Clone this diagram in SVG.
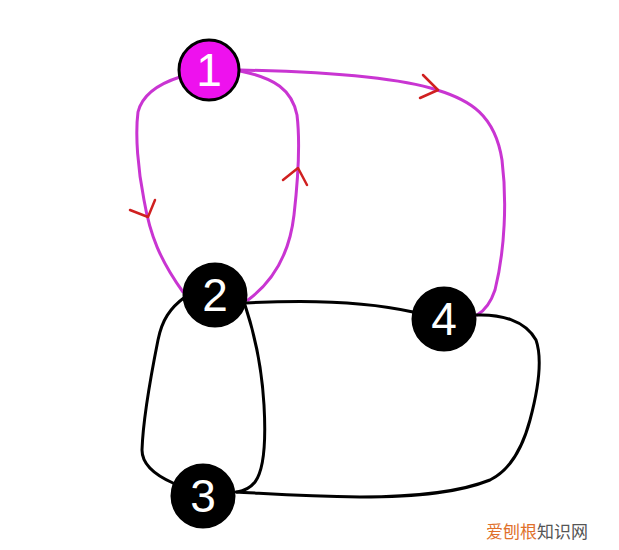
<svg xmlns="http://www.w3.org/2000/svg" width="619" height="550" viewBox="0 0 619 550">
<style>
.m{fill:none;stroke:#c935d2;stroke-width:3;stroke-linecap:round;stroke-linejoin:round}
.k{fill:none;stroke:#000;stroke-width:3;stroke-linecap:round;stroke-linejoin:round}
.a{fill:none;stroke:#d02020;stroke-width:2.5;stroke-linecap:round;stroke-linejoin:round}
.n{stroke:#000;stroke-width:3}
.t{font-family:"Liberation Sans",Arial,sans-serif;font-size:46px;fill:#fff;text-anchor:middle}
.w{font-family:"Noto Sans CJK SC",sans-serif;font-size:17px}
</style>
<rect width="619" height="550" fill="#fff"/>
<g id="connectors">
<path class="m" d="M180,77 C158,84 142,96 138,112 C135,135 138,170 144,200 C150,235 160,260 183,292"/>
<path class="m" d="M240,71 C275,78 292,90 297,115 C300,140 298,180 294,215 C290,250 275,280 248,300"/>
<path class="m" d="M240,70 C330,72 400,78 437,90 C470,100 495,115 502,160 C507,200 505,250 495,290 C490,305 484,311 477,315"/>
<path class="a" d="M130,210 L148,217 L155,200"/>
<path class="a" d="M283,180 L298,168 L307,185"/>
<path class="a" d="M423,75 L438,90 L420,98"/>
<path class="k" d="M185,297 C170,308 162,320 158,340 C150,380 143,420 142,450 C142,465 155,475 173,483"/>
<path class="k" d="M245,305 C255,335 262,370 264,405 C266,440 264,470 255,482 C250,488 244,491 237,492"/>
<path class="k" d="M246,303 C300,300 360,300 413,312"/>
<path class="k" d="M476,315 C500,314 525,320 536,340 C543,360 538,390 530,420 C522,450 510,470 490,480 C460,492 420,497 360,497 C300,496 260,493 236,492"/>
</g>
<g id="node1"><circle class="n" cx="209" cy="70" r="30" fill="#ee11ee"/><text class="t" x="209" y="86">1</text></g>
<g id="node2"><circle class="n" cx="215" cy="295" r="31" fill="#000"/><text class="t" x="215" y="311">2</text></g>
<g id="node3"><circle class="n" cx="203" cy="496" r="31" fill="#000"/><text class="t" x="203" y="512">3</text></g>
<g id="node4"><circle class="n" cx="444" cy="319" r="31" fill="#000"/><text class="t" x="444" y="335">4</text></g>
<text class="w" x="486" y="538"><tspan fill="#e0702a">爱刨根</tspan><tspan fill="#555">知识网</tspan></text>
</svg>
